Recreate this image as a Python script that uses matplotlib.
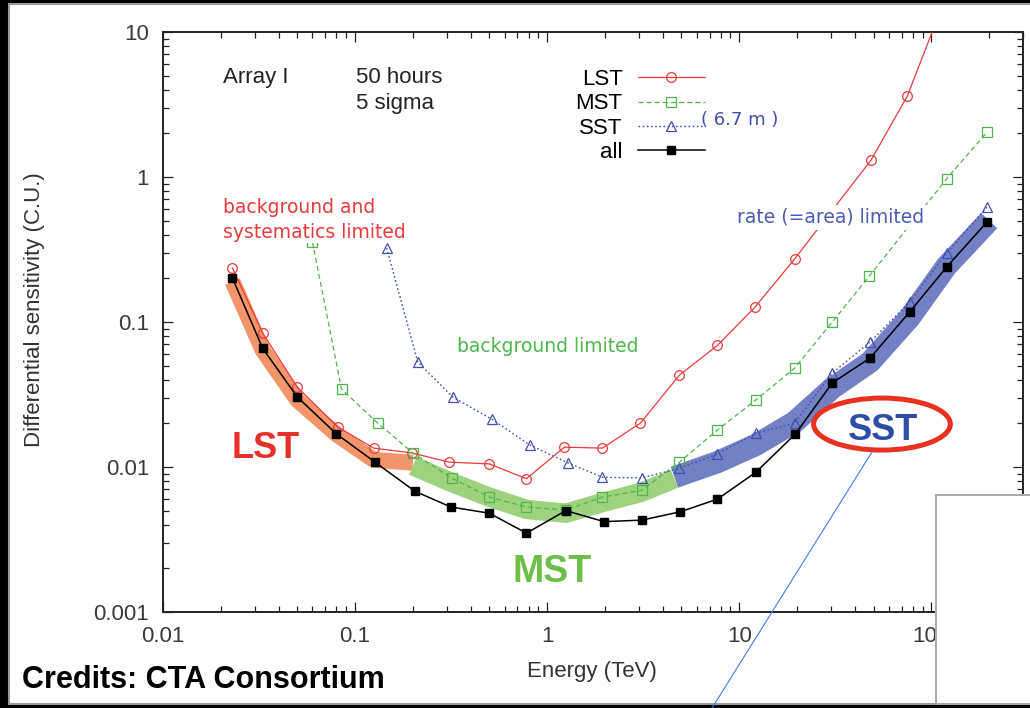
import numpy as np
import matplotlib
matplotlib.use("Agg")
import matplotlib.pyplot as plt
from matplotlib.patches import Rectangle, Ellipse
from matplotlib.lines import Line2D
from matplotlib.ticker import LogLocator, FuncFormatter, NullFormatter

plt.rcParams['font.family'] = ['Liberation Sans', 'DejaVu Sans']

# Differential sensitivity (Crab units) vs energy (TeV), 50 h, 5 sigma
lst_energy = [0.023, 0.033, 0.050, 0.081, 0.125, 0.197, 0.31, 0.50, 0.78, 1.23, 1.94,
              3.06, 4.88, 7.7, 12.1, 19.4, 48.6, 75, 120]
lst_sens = [0.236, 0.084, 0.0356, 0.0189, 0.0135, 0.0125, 0.0108, 0.0105, 0.0083, 0.0137,
            0.0135, 0.0201, 0.043, 0.069, 0.127, 0.272, 1.31, 3.62, 18]

mst_energy = [0.06, 0.085, 0.131, 0.2, 0.318, 0.5, 0.78, 1.25, 1.94, 3.1, 4.88, 7.7,
              12.2, 19.4, 30.5, 47.5, 120, 195]
mst_sens = [0.356, 0.0345, 0.0201, 0.0125, 0.0084, 0.0062, 0.0053, 0.00505, 0.0062, 0.0069,
            0.0108, 0.018, 0.029, 0.048, 0.1, 0.207, 0.97, 2.04]

sst_energy = [0.146, 0.212, 0.322, 0.514, 0.81, 1.28, 1.94, 3.1, 4.88, 7.7, 12.2, 19.4,
              30.5, 48, 77, 120, 195]
sst_sens = [0.324, 0.053, 0.0304, 0.0214, 0.0142, 0.0107, 0.0085, 0.0084, 0.0098, 0.0123,
            0.0171, 0.0201, 0.0445, 0.0728, 0.137, 0.299, 0.62]

all_energy = [0.023, 0.033, 0.050, 0.080, 0.127, 0.205, 0.315, 0.50, 0.78, 1.25, 1.98,
              3.1, 4.9, 7.7, 12.2, 19.6, 30.5, 48, 77, 120, 195]
all_sens = [0.201, 0.066, 0.0304, 0.0169, 0.0108, 0.0068, 0.0053, 0.0048, 0.0035, 0.0050,
            0.0042, 0.0043, 0.0049, 0.006, 0.0092, 0.0169, 0.038, 0.0565, 0.117, 0.239, 0.49]

# highlighted regimes where each telescope type dominates
lst_band_energy = [0.023, 0.033, 0.05, 0.08, 0.125, 0.2]
lst_band_sens = [0.19, 0.064, 0.029, 0.0168, 0.0112, 0.0107]
mst_band_energy = [0.2, 0.32, 0.5, 0.78, 1.25, 1.95, 3.1, 4.6]
mst_band_sens = [0.0102, 0.0078, 0.0062, 0.0051, 0.0048, 0.0057, 0.0067, 0.0083]
sst_band_energy = [4.6, 7.7, 12.2, 19.4, 30.5, 48, 77, 120, 200]
sst_band_sens = [0.0085, 0.0108, 0.0142, 0.0204, 0.035, 0.053, 0.107, 0.243, 0.50]

RED = '#ec3a3a'
GREEN = '#4cb84a'
BLUE = '#3f50b0'

fig = plt.figure(figsize=(10.3, 7.08), dpi=100, facecolor='black')
# white slide panel
fig.add_artist(Rectangle((0.0087, 0.0056), 1.0, 0.9887, transform=fig.transFigure,
                         facecolor='white', edgecolor='#9a9a9a', lw=1.5, zorder=-10))

ax = fig.add_axes([0.15825, 0.13559, 0.83495, 0.81921])
ax.set_xscale('log')
ax.set_yscale('log')
ax.set_xlim(0.01, 300)
ax.set_ylim(0.001, 10)

band_kw = dict(solid_capstyle='butt', solid_joinstyle='round', zorder=1)
ax.plot(lst_band_energy, lst_band_sens, color='#f2956a', lw=11.5, **band_kw)
ax.plot(mst_band_energy, mst_band_sens, color='#9fd27e', lw=14, **band_kw)
ax.plot(sst_band_energy, sst_band_sens, color='#7380c4', lw=16, **band_kw)

ax.plot(lst_energy, lst_sens, color=RED, lw=0.9, marker='o', ms=7, mfc='none',
        mew=0.9, label='LST', zorder=3)
ax.plot(mst_energy, mst_sens, color=GREEN, lw=0.9, ls=(0, (4, 2.5)), marker='s', ms=6.5,
        mfc='none', mew=0.9, label='MST', zorder=3)
ax.plot(sst_energy, sst_sens, color=BLUE, lw=1.0, ls=(0, (1.2, 1.8)), marker='^', ms=6.5,
        mfc='none', mew=0.9, label='SST', zorder=3)
ax.plot(all_energy, all_sens, color='black', lw=1.1, marker='s', ms=5.8, mfc='black',
        label='all', zorder=4)

ax.legend(loc='upper right', bbox_to_anchor=(0.630, 0.936), markerfirst=False,
          frameon=False, fontsize=16, handlelength=3.0, handletextpad=0.7,
          labelspacing=0.15, borderpad=0, borderaxespad=0)

ax.text(6.35, 2.28, '( 6.7 m )', color=BLUE, fontsize=13, family='DejaVu Sans')
ax.text(0.0205, 4.45, 'Array I', fontsize=16, color='#222222')
ax.text(0.101, 4.45, '50 hours', fontsize=16, color='#222222')
ax.text(0.101, 2.94, '5 sigma', fontsize=16, color='#222222')

ax.text(0.0205, 0.565, 'background and', color=RED, fontsize=13.5, family='DejaVu Sans')
ax.text(0.0205, 0.379, 'systematics limited', color=RED, fontsize=13.5, family='DejaVu Sans',
        bbox=dict(facecolor='white', edgecolor='none', pad=0.5), zorder=5)
ax.text(0.338, 0.0621, 'background limited', color=GREEN, fontsize=13.5, family='DejaVu Sans')
ax.text(9.77, 0.482, 'rate (=area) limited', color='#4a5cb4', fontsize=13.5,
        family='DejaVu Sans', bbox=dict(facecolor='white', edgecolor='none', pad=2), zorder=5)

ax.text(0.0229, 0.01153, 'LST', color='#e8302a', fontsize=26, weight='bold')
ax.text(0.661, 0.00161, 'MST', color='#6cc048', fontsize=27, weight='bold')
ax.text(56.1, 0.01535, 'SST', color='#2c4ea6', fontsize=26, weight='bold', ha='center')
ax.add_patch(Ellipse((0.836, 0.324), 0.159, 0.0897, transform=ax.transAxes, fill=False,
                     edgecolor='#e8311f', lw=3.6, zorder=6, clip_on=False))

major_fmt = FuncFormatter(lambda v, p: f'{v:g}')
for axis in (ax.xaxis, ax.yaxis):
    axis.set_major_locator(LogLocator(base=10, numticks=20))
    axis.set_minor_locator(LogLocator(base=10, subs=np.arange(2, 10), numticks=20))
    axis.set_major_formatter(major_fmt)
    axis.set_minor_formatter(NullFormatter())

ax.tick_params(which='both', direction='in', top=True, right=True, color='#222222',
               width=0.9, labelsize=16, labelcolor='#3a3a3a')
ax.tick_params(which='major', length=7)
ax.tick_params(which='minor', length=4.5)
ax.tick_params(axis='x', pad=10)
ax.tick_params(axis='y', pad=10)
for s in ax.spines.values():
    s.set_linewidth(1.4)
    s.set_color('#222222')

ax.set_xlabel('Energy (TeV)', fontsize=16, color='#333333')
ax.xaxis.set_label_coords(0.499, -0.0845)
ax.set_ylabel('Differential sensitivity (C.U.)', fontsize=16, color='#333333')
ax.yaxis.set_label_coords(-0.137, 0.521)

# pointer from the SST label and the inset box in the corner
fig.add_artist(Line2D([0.8466, 0.6913], [0.3616, 0.0], transform=fig.transFigure,
                      color='#3d7cf0', lw=0.8, zorder=5))
fig.add_artist(Rectangle((0.9087, 0.0056), 0.1, 0.2952, transform=fig.transFigure,
                         facecolor='white', edgecolor='#aaaaaa', lw=1.5, zorder=5))

fig.text(0.0214, 0.0282, 'Credits: CTA Consortium', fontsize=22, weight='bold',
         color='black', va='baseline')

fig.savefig('out.png', dpi=100, facecolor=fig.get_facecolor())
